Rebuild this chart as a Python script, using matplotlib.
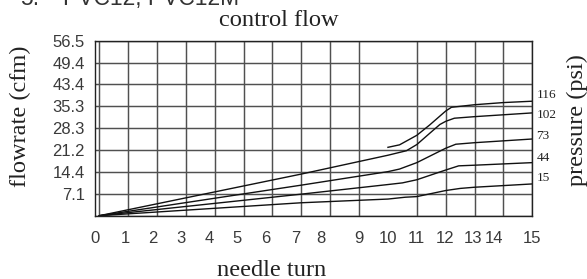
import numpy as np
import matplotlib
matplotlib.use("Agg")
import matplotlib.pyplot as plt

# ---- data ----
ytick_vals = [0, 7.1, 14.4, 21.2, 28.3, 35.3, 43.4, 49.4, 56.5]
ytick_labels = ["", "7.1", "14.4", "21.2", "28.3", "35.3", "43.4", "49.4", "56.5"]
xtick_labels = [str(i) for i in range(16)]

pressures = ["116", "102", "73", "44", "15"]

turn_116 = [10.0, 10.4, 11.0, 11.44, 12.0, 12.2, 13.0, 14.0, 15.0]
flow_116 = [22.1, 22.9, 26.0, 29.3, 33.8, 35.0, 35.9, 36.7, 37.2]

turn_102 = [0, 7.0, 10.0, 10.64, 11.0, 11.44, 11.8, 12.0, 12.3, 13.0, 15.0]
flow_102 = [0, 13.7, 19.6, 21.0, 23.0, 26.6, 29.5, 30.5, 31.5, 32.0, 33.2]

turn_73 = [0, 7.0, 10.0, 10.4, 11.0, 12.0, 12.35, 13.0, 15.0]
flow_73 = [0, 10.0, 14.5, 15.3, 17.3, 21.8, 23.1, 23.6, 24.8]

turn_44 = [0, 7.0, 10.0, 10.5, 11.0, 12.0, 12.45, 13.0, 15.0]
flow_44 = [0, 7.0, 10.2, 10.75, 11.8, 15.0, 16.3, 16.5, 17.3]

turn_15 = [0, 7.0, 10.0, 10.6, 11.0, 12.0, 12.5, 13.0, 15.0]
flow_15 = [0, 4.2, 5.4, 6.0, 6.2, 8.2, 8.9, 9.3, 10.4]

series = [(turn_116, flow_116), (turn_102, flow_102), (turn_73, flow_73),
          (turn_44, flow_44), (turn_15, flow_15)]

# ---- styling / layout ----
label_dy_pt = [4.5, -1.5, 2.5, 3.5, 4.5]          # vertical offsets of pressure labels
x_label_shift = [-0.16, -0.11, -0.14, -0.16, -0.2, -0.22, -0.22, -0.21,
                 -0.33, -0.02, 0.0, -0.02, -0.03, -0.06, -0.34, -0.02]

grid_pos = np.arange(len(ytick_vals), dtype=float)

def fwd(y):
    return np.interp(y, ytick_vals, grid_pos)

def inv(g):
    return np.interp(g, grid_pos, ytick_vals)

fig = plt.figure(figsize=(5.87, 2.79), dpi=100)
ax = fig.add_axes([0.1613, 0.2269, 0.7455, 0.6271])
ax.set_yscale("function", functions=(fwd, inv))
ax.set_xlim(0, 15)
ax.set_ylim(0, 56.5)

# grid
ax.set_yticks(ytick_vals)
ax.set_yticklabels(ytick_labels)
ax.set_xticks(np.arange(16), minor=True)
ax.set_xticks([i + s for i, s in enumerate(x_label_shift)])
ax.set_xticklabels(xtick_labels)
ax.grid(True, which="minor", axis="x", color="#505050", lw=1.05)
ax.grid(True, which="major", axis="y", color="#505050", lw=1.05)
ax.tick_params(which="both", length=0)
ax.tick_params(axis="y", pad=7, labelsize=12, labelcolor="#3a3a3a")
ax.tick_params(axis="x", pad=11, labelsize=12, labelcolor="#3a3a3a")
for t in ax.get_xticklabels() + ax.get_yticklabels():
    t.set_fontfamily("Liberation Sans")
for sp in ax.spines.values():
    sp.set_color("#222222")
    sp.set_linewidth(1.0)

for (x, y), lab, dy in zip(series, pressures, label_dy_pt):
    ax.plot(x, y, color="#111111", lw=1.0, solid_joinstyle="round")
    ax.annotate(lab, xy=(x[-1], y[-1]), xytext=(3, dy), textcoords="offset points",
                ha="left", va="center", fontsize=9.5, family="Liberation Serif",
                color="#222222", annotation_clip=False)

serif = dict(family="Liberation Serif", color="#222222", fontsize=17.6)
fig.text(279 / 587, 1 - 21 / 279, "control flow", ha="center", va="center", **serif)
fig.text(272 / 587, 1 - 270 / 279, "needle turn", ha="center", va="center", **serif)
fig.text(20 / 587, 1 - 116 / 279, "flowrate (cfm)", ha="center", va="center",
         rotation=90, **serif)
fig.text(577 / 587, 1 - 120 / 279, "pressure (psi)", ha="center", va="center",
         rotation=90, **serif)

# cut-off heading at the very top (partly outside the picture, as in the reference)
fig.text(20 / 587, 1 - 5 / 279, "5.", ha="left", va="baseline",
         family="Liberation Sans", fontsize=16.5, color="#333333")
fig.text(63 / 587, 1 - 5 / 279, "PVC12, PVC12M", ha="left", va="baseline",
         family="Liberation Sans", fontsize=16.5, color="#333333")

fig.savefig("out.png", dpi=100)
